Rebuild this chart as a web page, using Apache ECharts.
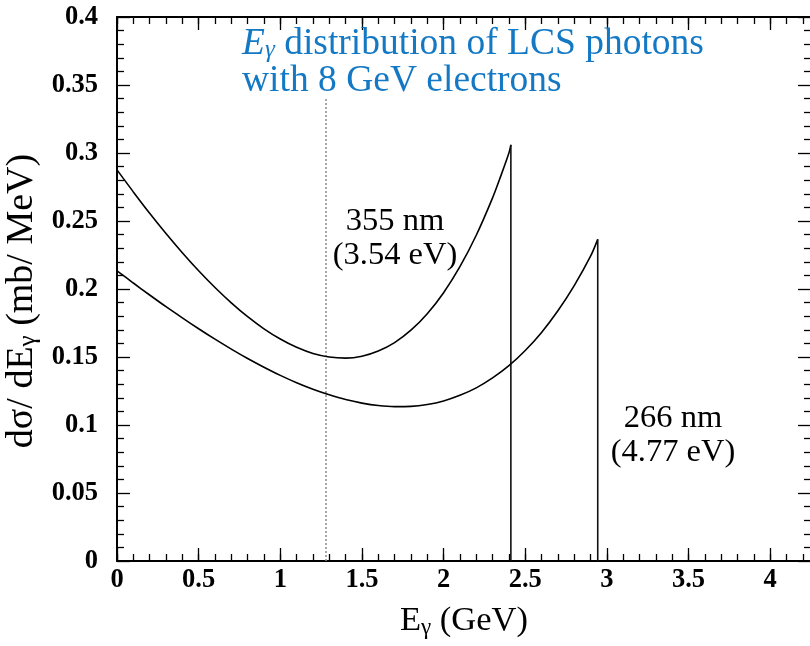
<!DOCTYPE html>
<html>
<head>
<meta charset="utf-8">
<script src="https://cdn.jsdelivr.net/npm/echarts@6/dist/echarts.min.js"></script>
<style>
  html, body { margin: 0; padding: 0; background: #fff; }
  #chart { width: 810px; height: 646px; }
</style>
</head>
<body>
<div id="chart"></div>
<script>
// Photon energy (GeV) and dσ/dEγ (mb/MeV), 355 nm laser (3.54 eV)
const energy355 = [0, 0.1, 0.2, 0.3, 0.4, 0.5, 0.6, 0.7, 0.8, 0.9, 1.0, 1.1, 1.2, 1.3,
  1.4, 1.5, 1.6, 1.7, 1.8, 1.9, 2.0, 2.1, 2.2, 2.3, 2.35, 2.4, 2.412];
const sigma355 = [0.2876, 0.2714, 0.2557, 0.2408, 0.2267, 0.2134, 0.2011, 0.1898, 0.1796,
  0.1707, 0.1632, 0.1571, 0.1526, 0.1500, 0.1492, 0.1506, 0.1544, 0.1606, 0.1697, 0.1818,
  0.1973, 0.2164, 0.2395, 0.2670, 0.2830, 0.3000, 0.3060];

// Photon energy (GeV) and dσ/dEγ (mb/MeV), 266 nm laser (4.77 eV)
const energy266 = [0, 0.1, 0.2, 0.3, 0.4, 0.5, 0.6, 0.7, 0.8, 0.9, 1.0, 1.1, 1.2, 1.3,
  1.4, 1.5, 1.6, 1.7, 1.8, 1.9, 2.0, 2.1, 2.2, 2.3, 2.4, 2.5, 2.6, 2.7, 2.8, 2.9, 2.944];
const sigma266 = [0.2134, 0.2044, 0.1956, 0.1870, 0.1788, 0.1708, 0.1631, 0.1558, 0.1489,
  0.1425, 0.1365, 0.1311, 0.1263, 0.1222, 0.1187, 0.1161, 0.1143, 0.1135, 0.1137, 0.1151,
  0.1177, 0.1218, 0.1273, 0.1346, 0.1436, 0.1548, 0.1681, 0.1840, 0.2025, 0.2241, 0.2365];

// Dotted reference line
const markerEnergy = 1.28;
const markerTop = 0.34;

// Axis ranges and tick steps
const xRange = [0, 4.25];
const xMajorStep = 0.5;
const xMinorStep = 0.1;
const yRange = [0, 0.4];
const yMajorStep = 0.05;

const serif = '"Liberation Serif", "Times New Roman", serif';
const blue = '#1479c4';

const zip = (xs, ys) => xs.map((x, i) => [x, ys[i]]);
const edgeDrop = (xs, ys) => {
  const x = xs[xs.length - 1];
  return [[x, ys[ys.length - 1]], [x, 0]];
};

const gridBox = {
  left: 117, right: -1, top: 17, bottom: 85, show: false,
  containLabel: false, outerBoundsMode: 'none'
};
const tickLine = { color: '#000', width: 1.3 };

function frameX(gridIndex, position, step, len, line, extra) {
  return Object.assign({
    gridIndex, type: 'value', position, min: xRange[0], max: xRange[1], interval: step,
    axisLine: { show: line, onZero: false, lineStyle: { color: '#000', width: 2 } },
    axisTick: { show: true, inside: true, length: len, lineStyle: tickLine },
    axisLabel: { show: false },
    splitLine: { show: false }
  }, extra || {});
}

const chart = echarts.init(document.getElementById('chart'), null, { renderer: 'canvas' });

chart.setOption({
  animation: false,
  backgroundColor: '#fff',
  title: {
    text: '{e|E}{s|γ} distribution of LCS photons\nwith 8 GeV electrons',
    left: 242, top: 26, padding: 0,
    textStyle: {
      fontFamily: serif, fontSize: 37.5, fontWeight: 'normal', color: blue, lineHeight: 37,
      rich: {
        e: { fontFamily: serif, fontSize: 37.5, fontStyle: 'italic', color: blue, lineHeight: 37 },
        s: { fontFamily: serif, fontSize: 25, fontStyle: 'italic', color: blue, lineHeight: 22, verticalAlign: 'bottom' }
      }
    }
  },
  grid: [gridBox, Object.assign({}, gridBox)],
  xAxis: [
    frameX(0, 'bottom', xMajorStep, 13, true, {
      axisLabel: {
        show: true, fontFamily: serif, fontWeight: 'bold', fontSize: 26.5, color: '#000',
        margin: 6, showMaxLabel: false
      },
      name: '{e|E}{s|γ} (GeV)',
      nameLocation: 'middle',
      nameGap: 42,
      nameTextStyle: {
        fontFamily: serif, fontSize: 34.5, color: '#000', lineHeight: 36,
        rich: {
          e: { fontFamily: serif, fontSize: 34.5, color: '#000', lineHeight: 36 },
          s: { fontFamily: serif, fontSize: 23, color: '#000', lineHeight: 20, verticalAlign: 'bottom' }
        }
      }
    }),
    frameX(0, 'top', xMajorStep, 13, true),
    frameX(1, 'bottom', xMinorStep, 7, false),
    frameX(1, 'top', xMinorStep, 7, false)
  ],
  yAxis: [
    {
      gridIndex: 0, type: 'value', position: 'left', min: yRange[0], max: yRange[1], interval: yMajorStep,
      axisLine: { show: true, onZero: false, lineStyle: { color: '#000', width: 2 } },
      axisTick: { show: true, inside: true, length: 13, lineStyle: tickLine },
      minorTick: { show: true, splitNumber: 5, length: 7, lineStyle: tickLine },
      axisLabel: { fontFamily: serif, fontWeight: 'bold', fontSize: 26.5, color: '#000', margin: 19 },
      splitLine: { show: false },
      name: 'dσ/ dE{s|γ} (mb/ MeV)',
      nameLocation: 'middle',
      nameGap: 60,
      nameRotate: 90,
      nameTextStyle: {
        fontFamily: serif, fontSize: 38, color: '#000', lineHeight: 38,
        padding: [0, 24, 0, 0],
        rich: {
          s: { fontFamily: serif, fontSize: 25, color: '#000', lineHeight: 22, verticalAlign: 'bottom' }
        }
      }
    },
    {
      gridIndex: 0, type: 'value', position: 'right', min: yRange[0], max: yRange[1], interval: yMajorStep,
      axisLine: { show: true, onZero: false, lineStyle: { color: '#000', width: 2 } },
      axisTick: { show: true, inside: true, length: 13, lineStyle: tickLine },
      minorTick: { show: true, splitNumber: 5, length: 7, lineStyle: tickLine },
      axisLabel: { show: false },
      splitLine: { show: false }
    },
    { gridIndex: 1, type: 'value', min: yRange[0], max: yRange[1], show: false }
  ],
  graphic: [
    {
      type: 'text', x: 395, y: 238,
      style: {
        text: '355 nm\n(3.54 eV)', font: '32.5px ' + serif, fill: '#000',
        align: 'center', verticalAlign: 'middle', lineHeight: 34
      }
    },
    {
      type: 'text', x: 673, y: 435,
      style: {
        text: '266 nm\n(4.77 eV)', font: '32.5px ' + serif, fill: '#000',
        align: 'center', verticalAlign: 'middle', lineHeight: 34
      }
    }
  ],
  series: [
    {
      name: 'marker', type: 'line', xAxisIndex: 0, yAxisIndex: 0,
      data: [[markerEnergy, 0], [markerEnergy, markerTop]],
      symbol: 'none', silent: true,
      lineStyle: { color: '#8a8a8a', width: 1.5, type: [2, 2] }
    },
    {
      name: '355 nm', type: 'line', xAxisIndex: 0, yAxisIndex: 0,
      data: zip(energy355, sigma355), smooth: 0.3, symbol: 'none',
      lineStyle: { color: '#000', width: 1.6 }
    },
    {
      name: '355 nm edge', type: 'line', xAxisIndex: 0, yAxisIndex: 0,
      data: edgeDrop(energy355, sigma355), symbol: 'none',
      lineStyle: { color: '#111', width: 1.6 }
    },
    {
      name: '266 nm', type: 'line', xAxisIndex: 0, yAxisIndex: 0,
      data: zip(energy266, sigma266), smooth: 0.3, symbol: 'none',
      lineStyle: { color: '#000', width: 1.6 }
    },
    {
      name: '266 nm edge', type: 'line', xAxisIndex: 0, yAxisIndex: 0,
      data: edgeDrop(energy266, sigma266), symbol: 'none',
      lineStyle: { color: '#111', width: 1.6 }
    }
  ]
});
</script>
</body>
</html>
